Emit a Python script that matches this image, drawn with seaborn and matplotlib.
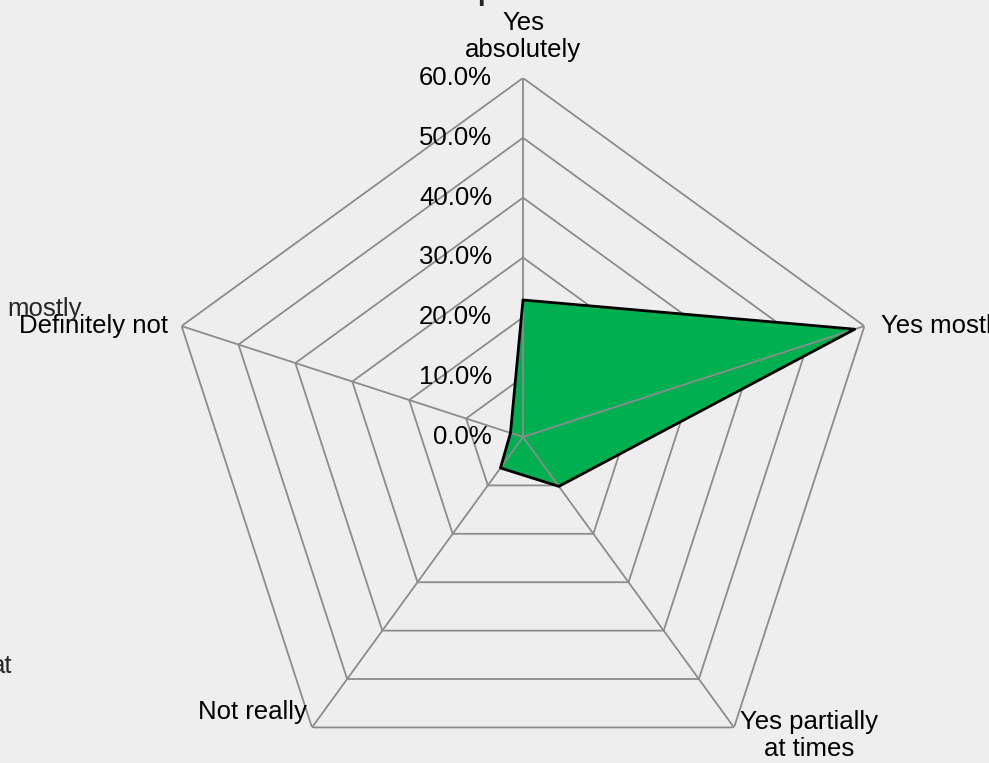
import numpy as np
import pandas as pd
import matplotlib.pyplot as plt
import seaborn as sns

# respostas (percentuais)
categorias = ["Yes\nabsolutely", "Yes mostly", "Yes partially\nat times", "Not really", "Definitely not"]
valores = [22.9, 58.3, 10.2, 6.4, 2.2]
niveis = [0, 10, 20, 30, 40, 50, 60]
rotulos_niveis = ["0.0%", "10.0%", "20.0%", "30.0%", "40.0%", "50.0%", "60.0%"]

df = pd.DataFrame({"categoria": categorias, "valor": valores})

sns.set_theme(style="white")
plt.rcParams["font.family"] = ["Liberation Sans", "DejaVu Sans"]

fundo = "#eeeeee"
fs = 18.5
fig = plt.figure(figsize=(9.89, 7.63), dpi=100, facecolor=fundo)
ax = fig.add_axes([164 / 989, -33 / 763, 718 / 989, 718 / 763], projection="polar")
ax.set_facecolor(fundo)
ax.patch.set_alpha(0)

n = len(df)
angulos = np.linspace(0, 2 * np.pi, n, endpoint=False)
fechado = np.append(angulos, angulos[0])

ax.set_theta_offset(np.pi / 2)
ax.set_theta_direction(-1)
ax.set_ylim(0, 60)
ax.grid(False)
ax.spines["polar"].set_visible(False)
ax.set_xticks([])
ax.set_yticks([])

# grade poligonal
for nv in niveis:
    ax.plot(fechado, [nv] * (n + 1), color="#8c8c8c", lw=1.3, zorder=1)
for a in angulos:
    ax.plot([a, a], [0, 60], color="#8c8c8c", lw=1.3, zorder=3)

# dados
vals = np.append(df["valor"].values, df["valor"].values[0])
ax.fill(fechado, vals, color="#00b050", zorder=2)
ax.plot(fechado, vals, color="black", lw=2, zorder=4)

# rotulos dos niveis
for nv, txt in zip(niveis, rotulos_niveis):
    ax.annotate(txt, xy=(0, nv), xytext=(-31 * 0.72, 0), textcoords="offset points",
                ha="right", va="center", fontsize=fs, color="black")

# rotulos das categorias
pos = [((0, 16), "center", "bottom"),
       ((17, 0), "left", "center"),
       ((6, -8), "left", "center"),
       ((-5, 15), "right", "center"),
       ((-14, 0), "right", "center")]
for a, cat, (off, ha, va) in zip(angulos, df["categoria"], pos):
    ax.annotate(cat, xy=(a, 60), xytext=(off[0] * 0.72, off[1] * 0.72), textcoords="offset points",
                ha=ha, va=va, fontsize=fs, color="black", linespacing=1.15,
                multialignment="center")

# pedaços de texto cortados na borda
fig.text(82 / 989, 1 - 309 / 763, "mostly", ha="right", va="center", fontsize=fs)
fig.text(12 / 989, 1 - 673 / 763, "at", ha="right", va="baseline", fontsize=fs)
fig.text(486 / 989, 1.0, "p", ha="center", va="baseline", fontsize=20, fontweight="bold")

fig.savefig("out.png", dpi=100, facecolor=fundo)
